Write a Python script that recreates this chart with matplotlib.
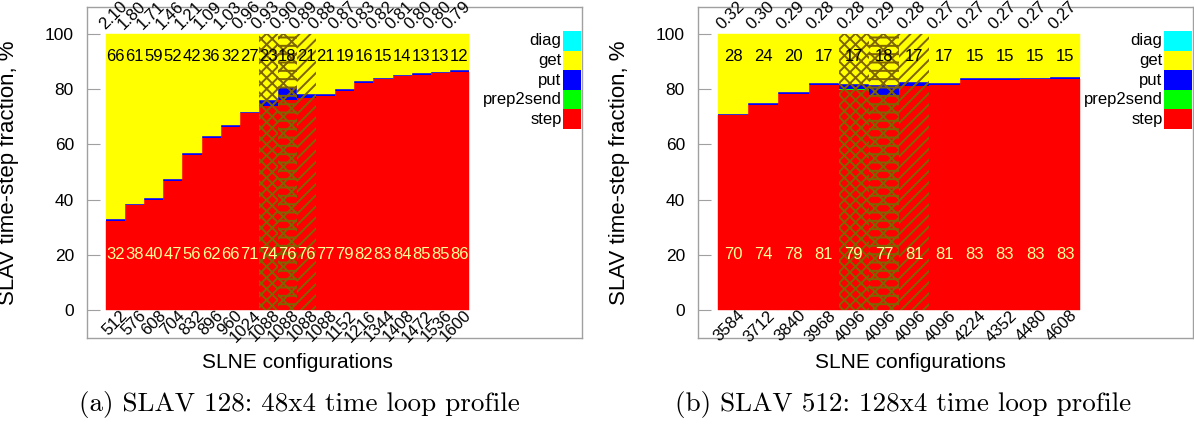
import numpy as np
import matplotlib
matplotlib.use("Agg")
import matplotlib.pyplot as plt
import matplotlib.transforms as mtransforms
from matplotlib.patches import Rectangle

plt.rcParams['font.family'] = ['Liberation Sans', 'DejaVu Sans']
plt.rcParams['hatch.linewidth'] = 1.4
plt.rcParams['hatch.color'] = '#7f6400'

# ---------------- Panel (a): SLAV 128 ----------------
a_configs = ['512', '576', '608', '704', '832', '896', '960', '1024', '1088', '1088',
             '1088', '1088', '1152', '1216', '1344', '1408', '1472', '1536', '1600']
a_times = ['2.10', '1.80', '1.71', '1.46', '1.21', '1.09', '1.03', '0.96', '0.93', '0.90',
           '0.89', '0.88', '0.87', '0.83', '0.82', '0.81', '0.80', '0.80', '0.79']
a_step = [32.4, 38.0, 40.0, 46.8, 56.3, 62.3, 66.4, 71.3, 73.9, 76.1,
          76.9, 77.6, 79.4, 82.4, 83.6, 84.7, 85.3, 85.8, 86.4]
a_prep2send = [0.02, 0.02, 0.02, 0.02, 0.02, 0.02, 0.02, 0.02, 0.02, 0.02,
               0.02, 0.02, 0.02, 0.02, 0.02, 0.02, 0.02, 0.02, 0.02]
a_put = [0.6, 0.6, 0.6, 0.6, 0.6, 0.6, 0.6, 0.6, 2.2, 4.8,
         1.3, 0.6, 0.6, 0.6, 0.6, 0.6, 0.6, 0.6, 0.6]
a_get = [66.96, 61.36, 59.36, 52.56, 43.06, 37.06, 32.96, 28.06, 23.86, 19.06,
         21.76, 21.76, 19.96, 16.96, 15.76, 14.66, 14.06, 13.56, 12.96]
a_diag = [0.02, 0.02, 0.02, 0.02, 0.02, 0.02, 0.02, 0.02, 0.02, 0.02,
          0.02, 0.02, 0.02, 0.02, 0.02, 0.02, 0.02, 0.02, 0.02]
a_step_lbl = ['32', '38', '40', '47', '56', '62', '66', '71', '74', '76',
              '76', '77', '79', '82', '83', '84', '85', '85', '86']
a_get_lbl = ['66', '61', '59', '52', '42', '36', '32', '27', '23', '18',
             '21', '21', '19', '16', '15', '14', '13', '13', '12']
a_hatched = [8, 9, 10]

# ---------------- Panel (b): SLAV 512 ----------------
b_configs = ['3584', '3712', '3840', '3968', '4096', '4096', '4096', '4096',
             '4224', '4352', '4480', '4608']
b_times = ['0.32', '0.30', '0.29', '0.28', '0.28', '0.29', '0.28', '0.27',
           '0.27', '0.27', '0.27', '0.27']
b_step = [70.5, 74.4, 78.3, 81.7, 79.9, 77.5, 81.2, 81.5, 83.3, 83.5, 83.6, 83.8]
b_prep2send = [0.02, 0.02, 0.02, 0.02, 0.02, 0.02, 0.02, 0.02, 0.02, 0.02, 0.02, 0.02]
b_put = [0.6, 0.6, 0.6, 0.6, 2.0, 4.0, 1.4, 0.6, 0.6, 0.6, 0.6, 0.6]
b_get = [28.86, 24.96, 21.06, 17.66, 18.06, 18.46, 17.36, 17.86, 16.06, 15.86, 15.76, 15.56]
b_diag = [0.02, 0.02, 0.02, 0.02, 0.02, 0.02, 0.02, 0.02, 0.02, 0.02, 0.02, 0.02]
b_step_lbl = ['70', '74', '78', '81', '79', '77', '81', '81', '83', '83', '83', '83']
b_get_lbl = ['28', '24', '20', '17', '17', '18', '17', '17', '15', '15', '15', '15']
b_hatched = [4, 5, 6]

legend_names = ['diag', 'get', 'put', 'prep2send', 'step']
legend_colors = ['#00ffff', '#ffff00', '#0000ff', '#00ff00', '#ff0000']
hatch_styles = ['xxx', 'xx--', '///']
hatch_color = '#7f6400'
FW, FH = 1194, 428

fig = plt.figure(figsize=(FW / 100, FH / 100), dpi=100)


def px_axes(x0, x1, ytop, ybot):
    return fig.add_axes([x0 / FW, 1 - ybot / FH, (x1 - x0) / FW, (ybot - ytop) / FH])


def panel(ax, configs, times, step, prep, put, get, diag, step_lbl, get_lbl,
          hatched, xlim, box_px, ax_px, xlabel_x):
    x = np.arange(len(configs))
    bottom = np.zeros(len(x))
    series = [(step, '#ff0000', 0.3), (prep, '#00ff00', 0.0), (put, '#0000ff', 0.0),
              (get, '#ffff00', 0.3), (diag, '#00ffff', 0.0)]
    for vals, col, lw in series:
        v = np.array(vals)
        ax.bar(x, v, width=1.0, bottom=bottom, color=col, edgecolor=col,
               linewidth=lw, zorder=2)
        bottom = bottom + v
    for k, i in enumerate(hatched):
        ax.bar(x[i], bottom[i], width=1.0, fill=False, hatch=hatch_styles[k],
               edgecolor=hatch_color, linewidth=0, zorder=3)

    off_top = mtransforms.ScaledTranslation(-14 / 100, 0, fig.dpi_scale_trans)
    off_bot = mtransforms.ScaledTranslation(9.5 / 100, -3 / 100, fig.dpi_scale_trans)
    for i in x:
        ax.text(i, 92, get_lbl[i], ha='center', va='center', fontsize=12,
                color='black', zorder=5)
        ax.text(i, 20, step_lbl[i], ha='center', va='center', fontsize=12,
                color='#ffff99', zorder=5)
        ax.text(i, 102.5, times[i], rotation=45, rotation_mode='anchor',
                ha='left', va='center', fontsize=12,
                transform=ax.transData + off_top, zorder=5)
        ax.text(i, 0, configs[i], rotation=45, rotation_mode='anchor',
                ha='right', va='center', fontsize=12,
                transform=ax.transData + off_bot, zorder=5)

    ax.set_xlim(*xlim)
    ax.set_ylim(-10.1, 109.8)
    ax.set_xticks([])
    ax.set_yticks([0, 20, 40, 60, 80, 100])
    ax.tick_params(axis='y', direction='in', length=9.4, width=0.8,
                   color='#a0a0a0', labelsize=12.5, pad=9.4)
    for s in ax.spines.values():
        s.set_color('#a0a0a0')
        s.set_linewidth(1.0)
    ax.set_ylabel('SLAV time-step fraction, %', fontsize=16)
    ax.yaxis.set_label_coords(-0.137, 0.5)
    ax.set_xlabel('SLNE configurations', fontsize=15)
    ax.xaxis.set_label_coords(xlabel_x, -0.045)

    # key
    axx0, axx1, axy0, axy1 = ax_px
    aw, ah = axx1 - axx0, axy1 - axy0
    bx0, bx1 = box_px
    bh = 19.6
    for k, (name, col) in enumerate(zip(legend_names, legend_colors)):
        ytop = 31 + bh * k
        y0 = (axy1 - (ytop + bh)) / ah
        ax.add_patch(Rectangle(((bx0 - axx0) / aw, y0), (bx1 - bx0) / aw, bh / ah,
                               transform=ax.transAxes, facecolor=col,
                               edgecolor='none', clip_on=False, zorder=4))
        ax.text((bx0 - 1.5 - axx0) / aw, y0 + bh / 2 / ah, name,
                transform=ax.transAxes, ha='right', va='center', fontsize=12)


ax1 = px_axes(87, 582, 7, 338)
panel(ax1, a_configs, a_times, a_step, a_prep2send, a_put, a_get, a_diag,
      a_step_lbl, a_get_lbl, a_hatched, (-1.495, 24.42), (563, 581),
      (87, 582, 7, 338), 0.426)

ax2 = px_axes(698, 1193, 7, 338)
panel(ax2, b_configs, b_times, b_step, b_prep2send, b_put, b_get, b_diag,
      b_step_lbl, b_get_lbl, b_hatched, (-1.162, 15.23), (1164, 1192),
      (698, 1193, 7, 338), 0.43)

fig.text(299 / FW, 1 - 405 / FH, '(a) SLAV 128: 48x4 time loop profile',
         family='cmr10', fontsize=19.5, ha='center', va='center')
fig.text(903 / FW, 1 - 405 / FH, '(b) SLAV 512: 128x4 time loop profile',
         family='cmr10', fontsize=19.5, ha='center', va='center')

fig.savefig('out.png', dpi=100)
